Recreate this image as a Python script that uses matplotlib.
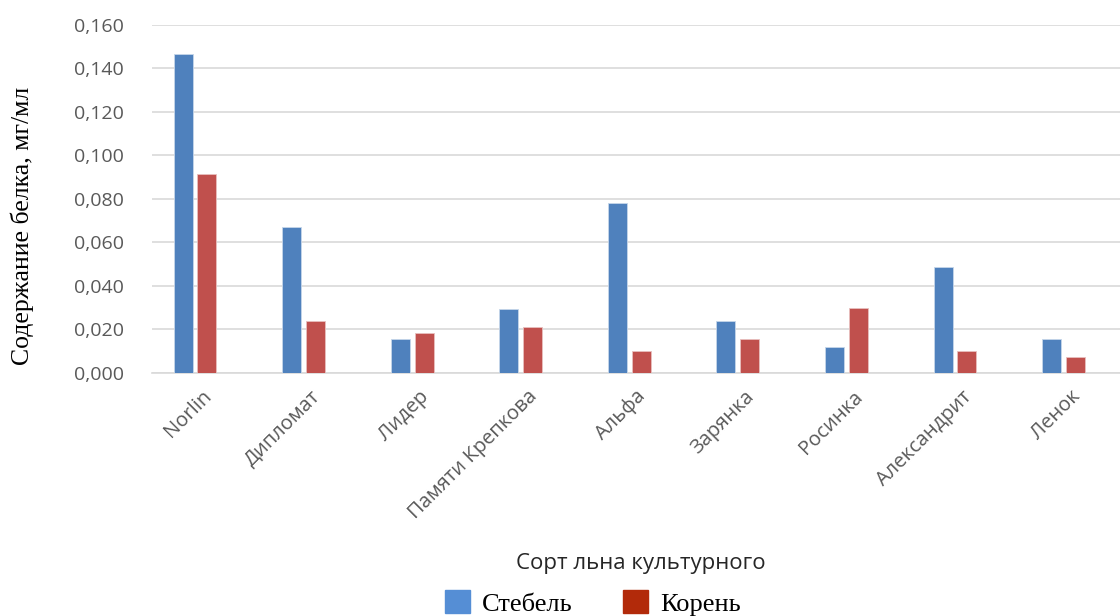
import matplotlib
matplotlib.use("Agg")
import matplotlib.pyplot as plt
import matplotlib.patches as mpatches
import numpy as np

varieties = ["Norlin", "Дипломат", "Лидер", "Памяти Крепкова", "Альфа",
             "Зарянка", "Росинка", "Александрит", "Ленок"]
stem = [0.1465, 0.0671, 0.0156, 0.0294, 0.0782, 0.0239, 0.0120, 0.0487, 0.0156]
root = [0.0912, 0.0239, 0.0184, 0.0212, 0.0101, 0.0156, 0.0296, 0.0101, 0.0074]
yticks = [0.0, 0.02, 0.04, 0.06, 0.08, 0.10, 0.12, 0.14, 0.16]

BLUE = "#4F81BD"
RED = "#C0504D"
GREY = "#595959"

fig = plt.figure(figsize=(11.2, 6.16), dpi=100)
ax = fig.add_axes([152 / 1120, 243.3 / 616, (1120 - 152) / 1120, 348 / 616])

x = np.arange(len(varieties))
off = 0.11
w = 0.175
ax.bar(x - off, stem, w, color=BLUE, edgecolor="#C6D6EA", linewidth=0.6, zorder=3)
ax.bar(x + off, root, w, color=RED, edgecolor="#E8C0BF", linewidth=0.6, zorder=3)

ax.set_ylim(0, 0.16)
ax.set_xlim(-0.396, 8.52)
ax.set_yticks(yticks)
ax.set_yticklabels([f"{v:.3f}".replace(".", ",") for v in yticks],
                   color=GREY, fontsize=14, family="Open Sans")
ax.yaxis.grid(True, color="#D9D9D9", linewidth=1.2, zorder=0)
ax.tick_params(axis="y", length=0, pad=20)
ax.tick_params(axis="x", length=0, pad=10)
ax.set_xticks(x + 0.06)
ax.set_xticklabels(varieties, rotation=45, ha="right", va="top",
                   rotation_mode="anchor", color=GREY, fontsize=14.5,
                   family="Open Sans")
for s in ["top", "right", "left"]:
    ax.spines[s].set_visible(False)
ax.spines["bottom"].set_color("#D9D9D9")
ax.spines["bottom"].set_linewidth(1.2)

fig.text(22 / 1120, 1 - 226 / 616, "Содержание белка, мг/мл", rotation=90,
         ha="center", va="center", fontsize=18.5, family="Liberation Serif")
fig.text(641 / 1120, 1 - 563 / 616, "Сорт льна культурного", ha="center",
         va="center", fontsize=16, color="#262626", family="Open Sans")

handles = [mpatches.Patch(color="#558ED5", label="Стебель"),
           mpatches.Patch(color="#B22A0A", label="Корень")]
fig.legend(handles=handles, loc="center", bbox_to_anchor=(593 / 1120, 1 - 603 / 616),
           ncol=2, frameon=False, prop={"family": "Liberation Serif", "size": 19},
           handlelength=0.95, handleheight=0.95, columnspacing=1.9, handletextpad=0.45)

fig.savefig("out.png", dpi=100)
